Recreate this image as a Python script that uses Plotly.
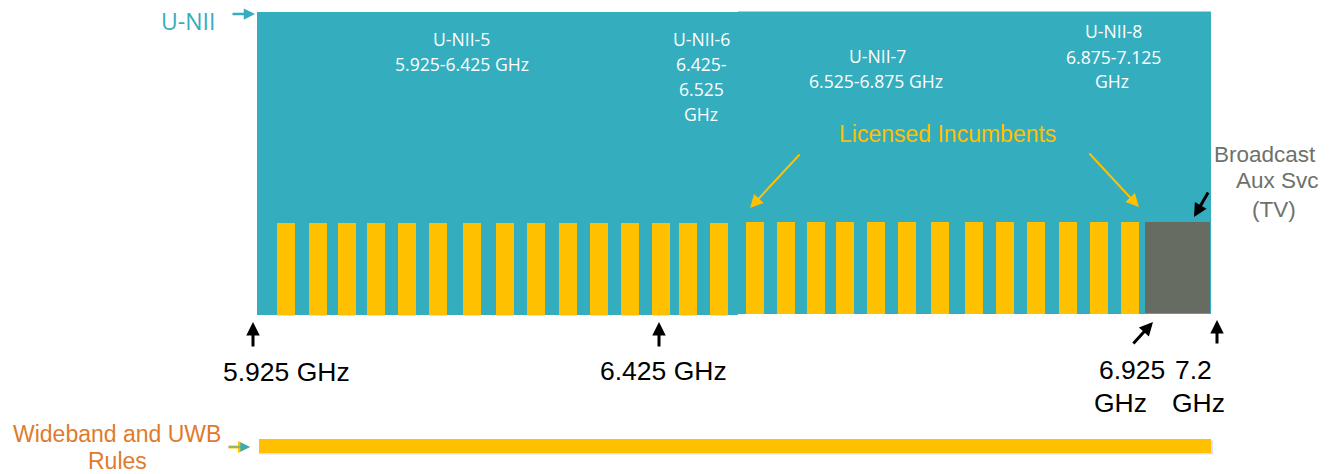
import plotly.graph_objects as go

W, H = 1335, 474

# Schematic layout of the 6 GHz band (x: position along the band diagram,
# y: height measured from the bottom of the drawing)
band_names = ["U-NII-5/6", "U-NII-7/8"]
band_left = [257, 738]
band_right = [738, 1211]
band_bottom = [159, 160]
band_top = [462, 462.5]

# Licensed incumbent channels (left edge of each channel on the schematic)
incumbent_left_low = [277, 309, 338, 367, 398, 429, 463, 496, 527, 559,
                      590, 621, 652, 679, 710]
incumbent_left_high = [746, 777, 807, 836, 867, 898, 931, 965, 996, 1027,
                       1059, 1090, 1121]
incumbent_width = 18
incumbent_bottom_low, incumbent_top_low = 158.5, 251
incumbent_bottom_high, incumbent_top_high = 160, 252

# Broadcast auxiliary service block (TV)
bas_left, bas_right = 1145, 1210
bas_bottom, bas_top = 161, 252

# Wideband / UWB rule span
uwb_left, uwb_right = 259, 1211
uwb_bottom, uwb_top = 21, 35

TEAL = "#34ADBE"
YELLOW = "#FFC000"
GRAY = "#666C62"
ORANGE = "#E07B2A"
TXTGRAY = "#6E716B"


def centers(lefts, width):
    return [l + width / 2 for l in lefts]


fig = go.Figure()

fig.add_trace(go.Bar(
    x=[(l + r) / 2 for l, r in zip(band_left, band_right)],
    y=[t - b for t, b in zip(band_top, band_bottom)],
    base=band_bottom,
    width=[r - l for l, r in zip(band_left, band_right)],
    marker=dict(color=TEAL, line=dict(width=0)),
    name="U-NII", hoverinfo="skip"))

fig.add_trace(go.Bar(
    x=centers(incumbent_left_low, incumbent_width),
    y=[incumbent_top_low - incumbent_bottom_low] * len(incumbent_left_low),
    base=[incumbent_bottom_low] * len(incumbent_left_low),
    width=[incumbent_width] * len(incumbent_left_low),
    marker=dict(color=YELLOW, line=dict(width=0)),
    name="Licensed Incumbents", hoverinfo="skip"))

fig.add_trace(go.Bar(
    x=centers(incumbent_left_high, incumbent_width),
    y=[incumbent_top_high - incumbent_bottom_high] * len(incumbent_left_high),
    base=[incumbent_bottom_high] * len(incumbent_left_high),
    width=[incumbent_width] * len(incumbent_left_high),
    marker=dict(color=YELLOW, line=dict(width=0)),
    name="Licensed Incumbents", hoverinfo="skip"))

fig.add_trace(go.Bar(
    x=[(bas_left + bas_right) / 2], y=[bas_top - bas_bottom], base=[bas_bottom],
    width=[bas_right - bas_left],
    marker=dict(color=GRAY, line=dict(width=0)),
    name="Broadcast Aux Svc", hoverinfo="skip"))

# soft shadow under the UWB bar
fig.add_trace(go.Bar(
    x=[(uwb_left + uwb_right) / 2 + 1], y=[uwb_top - uwb_bottom], base=[uwb_bottom - 1.5],
    width=[uwb_right - uwb_left + 2],
    marker=dict(color="rgba(140,170,210,0.35)", line=dict(width=0)),
    hoverinfo="skip"))
fig.add_trace(go.Bar(
    x=[(uwb_left + uwb_right) / 2], y=[uwb_top - uwb_bottom], base=[uwb_bottom],
    width=[uwb_right - uwb_left],
    marker=dict(color=YELLOW, line=dict(width=0)),
    name="Wideband and UWB Rules", hoverinfo="skip"))


def Y(py):
    return H - py


ann = []


def label(x, py, text, size, color, family="Liberation Sans, Arial, sans-serif"):
    ann.append(dict(x=x, y=Y(py), xref="x", yref="y", text=text, showarrow=False,
                    xanchor="center", yanchor="middle",
                    font=dict(size=size, color=color, family=family)))


def arrow(x0, py0, x1, py1, color, width=2.5, head=2, size=1.0):
    ann.append(dict(x=x1, y=Y(py1), ax=x0, ay=Y(py0), xref="x", yref="y",
                    axref="x", ayref="y", text="", showarrow=True,
                    arrowhead=head, arrowsize=size, arrowwidth=width,
                    arrowcolor=color))


OPEN = "Open Sans, sans-serif"
ARIAL = "Liberation Sans, Arial, sans-serif"
BAND_FS = 17.6

label(188, 21, "U-NII", 23, TEAL, OPEN)
arrow(231, 14, 255, 14, TEAL, width=2.5, head=2, size=0.9)

label(461, 39, "U-NII-5", BAND_FS, "white", OPEN)
label(462, 64, "5.925-6.425 GHz", BAND_FS, "white", OPEN)
label(701, 39, "U-NII-6", BAND_FS, "white", OPEN)
label(701, 64, "6.425-", BAND_FS, "white", OPEN)
label(701, 89, "6.525", BAND_FS, "white", OPEN)
label(701, 114, "GHz", BAND_FS, "white", OPEN)
label(877, 56, "U-NII-7", BAND_FS, "white", OPEN)
label(876, 81, "6.525-6.875 GHz", BAND_FS, "white", OPEN)
label(1113, 31, "U-NII-8", BAND_FS, "white", OPEN)
label(1113, 57, "6.875-7.125", BAND_FS, "white", OPEN)
label(1112, 81, "GHz", BAND_FS, "white", OPEN)

label(947, 134, "Licensed Incumbents", 23, YELLOW, ARIAL)
arrow(801, 153, 750, 208, YELLOW, width=2, head=2, size=1.3)
arrow(1088, 152, 1139, 207, YELLOW, width=2, head=2, size=1.3)

label(1265, 154, "Broadcast", 22.5, TXTGRAY, ARIAL)
label(1277, 180, "Aux Svc", 22.5, TXTGRAY, ARIAL)
label(1274, 209, "(TV)", 22.5, TXTGRAY, ARIAL)
arrow(1209, 191, 1194, 217, "black", width=3, head=2, size=0.9)

arrow(253, 348, 253, 322, "black", width=3, head=2, size=0.9)
arrow(659, 348, 659, 322, "black", width=3, head=2, size=0.9)
arrow(1132, 345, 1153, 322, "black", width=3, head=2, size=0.9)
arrow(1217, 345, 1217, 320, "black", width=3, head=2, size=0.9)

label(286, 372, "5.925 GHz", 26.5, "black", ARIAL)
label(663, 371, "6.425 GHz", 26.5, "black", ARIAL)
label(1132, 370, "6.925", 26.5, "black", ARIAL)
label(1120, 403, "GHz", 26.5, "black", ARIAL)
label(1193, 370, "7.2", 26.5, "black", ARIAL)
label(1198, 403, "GHz", 26.5, "black", ARIAL)

label(117, 434, "Wideband and UWB", 23, ORANGE, ARIAL)
label(117, 461, "Rules", 23, ORANGE, ARIAL)
arrow(227, 447, 250, 447, YELLOW, width=3, head=2, size=0.8)
arrow(227, 447, 250, 447, TEAL, width=1.2, head=2, size=1.6)

fig.update_layout(
    width=W, height=H,
    margin=dict(l=0, r=0, t=0, b=0),
    paper_bgcolor="white", plot_bgcolor="white",
    barmode="overlay", showlegend=False,
    xaxis=dict(range=[0, W], visible=False, fixedrange=True),
    yaxis=dict(range=[0, H], visible=False, fixedrange=True),
    annotations=ann,
)

fig.write_html("out.html", config={"displayModeBar": False})
